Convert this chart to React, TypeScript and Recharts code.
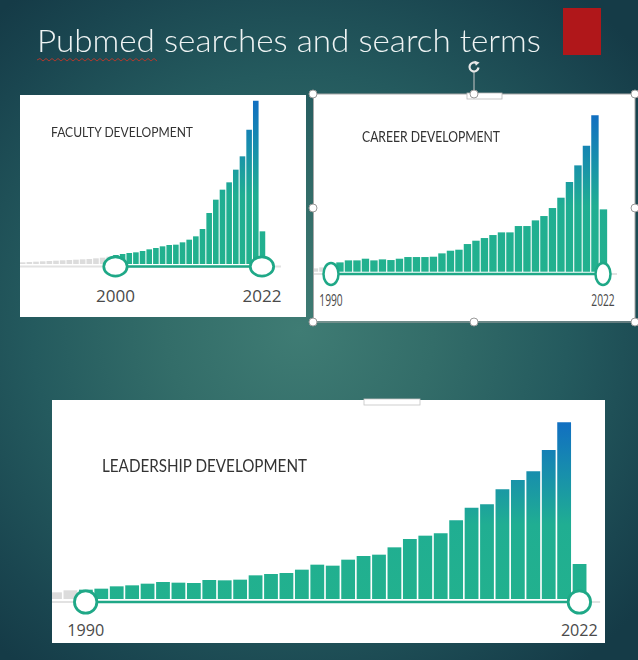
import React from 'react';
import { BarChart, Bar, XAxis, YAxis, Cell, ReferenceLine, ReferenceDot } from 'recharts';

// ---------- DATA ----------
const facultyYears = ['1986','1987','1988','1989','1990','1991','1992','1993','1994','1995','1996','1997','1998','1999','2000','2001','2002','2003','2004','2005','2006','2007','2008','2009','2010','2011','2012','2013','2014','2015','2016','2017','2018','2019','2020','2021','2022'];
const facultyValues = [5,6,7,8,9,10,11,12,13,14,15,17,19,22,27,30,33,35,39,44,48,53,57,58,65,73,83,105,153,193,223,245,283,323,403,490,98];
const facultyRange = ['2000', '2022'];

const careerYears = ['1988','1989','1990','1991','1992','1993','1994','1995','1996','1997','1998','1999','2000','2001','2002','2003','2004','2005','2006','2007','2008','2009','2010','2011','2012','2013','2014','2015','2016','2017','2018','2019','2020','2021','2022'];
const careerValues = [10,13,25,28,34,34,39,34,37,35,39,44,44,44,45,55,63,66,83,93,101,110,118,118,137,137,154,167,191,222,269,319,378,469,187];
const careerRange = ['1990', '2022'];

const leadershipYears = ['1988','1989','1990','1991','1992','1993','1994','1995','1996','1997','1998','1999','2000','2001','2002','2003','2004','2005','2006','2007','2008','2009','2010','2011','2012','2013','2014','2015','2016','2017','2018','2019','2020','2021','2022'];
const leadershipValues = [20,26,28,31,38,41,46,51,49,48,57,56,58,71,75,78,88,103,100,118,129,133,155,180,190,197,236,274,284,329,357,383,447,530,105];
const leadershipRange = ['1990', '2022'];

const slideTitle = 'Pubmed searches and search terms';
const facultyTitle = 'FACULTY DEVELOPMENT';
const careerTitle = 'CAREER DEVELOPMENT';
const leadershipTitle = 'LEADERSHIP DEVELOPMENT';

// ---------- STYLE ----------
const TEAL = '#22b18e';
const TRACK = '#1fa887';
const GRAY_BAR = '#dcdcdc';
const GRAY_TRACK = '#e2e2e2';

type Cfg = {
  id: string;
  years: string[];
  values: number[];
  range: string[];
  width: number;
  height: number;
  margin: { top: number; right: number; bottom: number; left: number };
  axisH: number;
  domain: [number, number];
  track: number;
  padRight: number;
  barSize: number;
  rx: number;
  ry: number;
  strokeW: number;
  tickMargin: number;
  tickFont: number;
  tickLen: number;
};

function SliderChart({ cfg }: { cfg: Cfg }) {
  const data = cfg.years.map((y, i) => ({ year: y, value: cfg.values[i] }));
  const plotH = cfg.height - cfg.margin.top - cfg.margin.bottom - cfg.axisH;
  const yPix = (v: number) => cfg.margin.top + ((cfg.domain[1] - v) / (cfg.domain[1] - cfg.domain[0])) * plotH;
  const maxV = Math.max(...cfg.values);
  const [start, end] = cfg.range;
  const dotShape = (p: any) => (
    <ellipse cx={p.cx} cy={p.cy} rx={cfg.rx} ry={cfg.ry} fill="#ffffff" stroke={TRACK} strokeWidth={cfg.strokeW} />
  );
  const tick = (p: any) => (
    <text
      x={p.x}
      y={p.y}
      dy="0.71em"
      textAnchor="middle"
      fontSize={cfg.tickFont}
      fontFamily="'Open Sans', 'Noto Sans', sans-serif"
      fill="#4a4a4a"
      textLength={cfg.tickLen}
      lengthAdjust="spacingAndGlyphs"
    >
      {p.payload.value}
    </text>
  );
  return (
    <BarChart width={cfg.width} height={cfg.height} data={data} margin={cfg.margin} barSize={cfg.barSize}>
      <defs>
        <linearGradient id={cfg.id} gradientUnits="userSpaceOnUse" x1="0" y1={yPix(maxV)} x2="0" y2={yPix(0)}>
          <stop offset="0" stopColor="#116fc1" />
          <stop offset="0.3" stopColor="#1890ab" />
          <stop offset="0.58" stopColor="#20ae92" />
          <stop offset="1" stopColor={TEAL} />
        </linearGradient>
      </defs>
      <XAxis
        dataKey="year"
        ticks={[start, end]}
        interval={0}
        axisLine={false}
        tickLine={false}
        tickSize={0}
        tickMargin={cfg.tickMargin}
        height={cfg.axisH}
        padding={{ left: 0, right: cfg.padRight }}
        tick={tick}
      />
      <YAxis hide domain={cfg.domain} />
      <ReferenceLine y={cfg.track} stroke={GRAY_TRACK} strokeWidth={2} />
      <ReferenceLine
        segment={[{ x: start, y: cfg.track }, { x: end, y: cfg.track }]}
        stroke={TRACK}
        strokeWidth={2.6}
      />
      <Bar dataKey="value" isAnimationActive={false}>
        {data.map((d) => (
          <Cell key={d.year} fill={d.year >= start && d.year <= end ? `url(#${cfg.id})` : GRAY_BAR} />
        ))}
      </Bar>
      <ReferenceDot x={start} y={cfg.track} r={cfg.ry} shape={dotShape} zIndex={1000} />
      <ReferenceDot x={end} y={cfg.track} r={cfg.ry} shape={dotShape} zIndex={1000} />
    </BarChart>
  );
}

const facultyCfg: Cfg = {
  id: 'gradFaculty',
  years: facultyYears,
  values: facultyValues,
  range: facultyRange,
  width: 288,
  height: 222,
  margin: { top: 1, right: 25, bottom: 15, left: 0.9 },
  axisH: 30,
  domain: [-24, 504],
  track: -7.5,
  padRight: 15.7,
  barSize: 5.6,
  rx: 11.7,
  ry: 9.6,
  strokeW: 2.7,
  tickMargin: 18,
  tickFont: 16.5,
  tickLen: 39,
};

const careerCfg: Cfg = {
  id: 'gradCareer',
  years: careerYears,
  values: careerValues,
  range: careerRange,
  width: 331,
  height: 227,
  margin: { top: 17.7, right: 18, bottom: 9.3, left: 5.75 },
  axisH: 30,
  domain: [-30, 480],
  track: -7,
  padRight: 9.75,
  barSize: 7.4,
  rx: 7.5,
  ry: 11,
  strokeW: 2.5,
  tickMargin: 13.3,
  tickFont: 16,
  tickLen: 23.4,
};

const leadershipCfg: Cfg = {
  id: 'gradLeader',
  years: leadershipYears,
  values: leadershipValues,
  range: leadershipRange,
  width: 563,
  height: 243,
  margin: { top: 19, right: 4.9, bottom: 4, left: 5.1 },
  axisH: 30,
  domain: [-30, 540],
  track: -9,
  padRight: 13,
  barSize: 13.8,
  rx: 11.2,
  ry: 11.2,
  strokeW: 2.8,
  tickMargin: 15,
  tickFont: 17,
  tickLen: 37,
};

function Panel({ x, y, w, h, chartLeft, cfg }: { x: number; y: number; w: number; h: number; chartLeft: number; cfg: Cfg }) {
  return (
    <div style={{ position: 'absolute', left: x, top: y, width: w, height: h, background: '#ffffff', overflow: 'hidden' }}>
      <div style={{ position: 'absolute', left: chartLeft, top: 0 }}>
        <SliderChart cfg={cfg} />
      </div>
    </div>
  );
}

const handlePts = [
  [313, 94], [474, 94], [635, 94],
  [313, 208], [635, 208],
  [313, 322], [474, 322], [635, 322],
];

export default function App() {
  let squiggle = 'M37 60';
  for (let i = 0; i < 40; i++) {
    squiggle += ` L${37 + (i + 1) * 3} ${i % 2 === 0 ? 58.5 : 61}`;
  }
  return (
    <div
      style={{
        position: 'fixed',
        left: 0,
        top: 0,
        width: 638,
        height: 660,
        overflow: 'hidden',
        background:
          'radial-gradient(ellipse 70% 65% at 47% 50%, #3f7c74 0%, #336d69 30%, #245a5e 60%, #1a4650 85%, #153b47 100%)',
      }}
    >
      <Panel x={20} y={95} w={286} h={222} chartLeft={-2} cfg={facultyCfg} />
      <Panel x={314} y={94} w={321} h={227} chartLeft={-10} cfg={careerCfg} />
      <Panel x={52} y={400} w={553} h={243} chartLeft={-10} cfg={leadershipCfg} />

      <svg width={638} height={660} style={{ position: 'absolute', left: 0, top: 0, pointerEvents: 'none' }}>
        {/* slide title */}
        <text
          x={37}
          y={52}
          fontSize={31}
          fontFamily="Lato, 'Open Sans', sans-serif"
          fontWeight={300}
          fill="#eef3f3"
          textLength={504}
          lengthAdjust="spacingAndGlyphs"
        >
          {slideTitle}
        </text>
        <path d={squiggle} fill="none" stroke="#c0392b" strokeWidth={0.9} />
        <rect x={563} y={8} width={38} height={47} fill="#b0171a" />

        {/* panel titles */}
        <text x={51} y={137} fontSize={13} fontFamily="Lato, 'Noto Sans', sans-serif" fill="#333" textLength={142} lengthAdjust="spacingAndGlyphs">
          {facultyTitle}
        </text>
        <text x={362} y={141.5} fontSize={15} fontFamily="Lato, 'Noto Sans', sans-serif" fill="#333" textLength={138} lengthAdjust="spacingAndGlyphs">
          {careerTitle}
        </text>
        <text x={102} y={472} fontSize={18} fontFamily="Lato, 'Noto Sans', sans-serif" fill="#333" textLength={205} lengthAdjust="spacingAndGlyphs">
          {leadershipTitle}
        </text>

        {/* selection frame around career panel */}
        <rect x={313.5} y={94} width={321.5} height={228} fill="none" stroke="#a8a8a8" strokeWidth={1} />
        <rect x={467} y={93} width={35} height={6} fill="#ffffff" stroke="#b8b8b8" strokeWidth={0.8} />
        <line x1={474} y1={72} x2={474} y2={94} stroke="#c8c8c8" strokeWidth={1} />
        <path d="M476.3 63.1 A4.5 4.5 0 1 0 478.5 67.5" fill="none" stroke="#e8e8e8" strokeWidth={2.2} />
        <path d="M474.5 60.8 L479.6 62.6 L475.8 65.8 Z" fill="#e8e8e8" />
        {handlePts.map(([hx, hy], i) => (
          <circle key={i} cx={hx} cy={hy} r={4} fill="#ffffff" stroke="#9a9a9a" strokeWidth={1} />
        ))}

        {/* small box on leadership panel */}
        <rect x={364} y={399} width={56} height={6} fill="#ffffff" stroke="#c4c4c4" strokeWidth={0.8} />
      </svg>
    </div>
  );
}
